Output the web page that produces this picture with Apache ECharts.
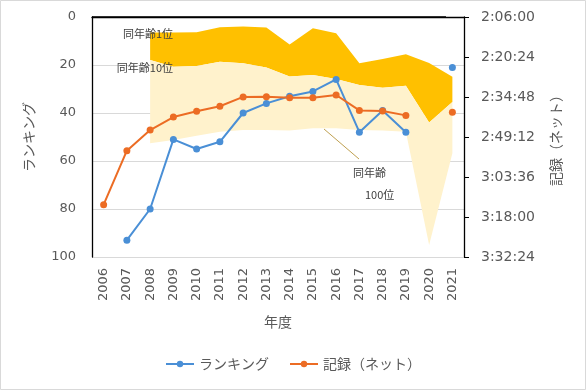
<!DOCTYPE html>
<html><head><meta charset="utf-8">
<script src="https://cdn.jsdelivr.net/npm/echarts@6/dist/echarts.min.js"></script>
<style>html,body{margin:0;padding:0;background:#fff}#c{width:586px;height:390px}</style>
</head><body><div id="c"></div>
<script>
const years = ['2006','2007','2008','2009','2010','2011','2012','2013','2014','2015','2016','2017','2018','2019','2020','2021'];
const ranking = [null,93,80,51,55,52,40,36,33,31,26,48,39,48,null,21];
const recordNet = ['3:13:34','2:54:07','2:46:42','2:42:02','2:39:57','2:38:08','2:34:46','2:34:41','2:35:02','2:35:02','2:34:05','2:39:37','2:39:52','2:41:25',null,'2:40:18'];
const sameAge1st = [null,null,'2:11:37','2:11:37','2:11:27','2:09:43','2:09:27','2:09:48','2:15:56','2:10:04','2:11:53','2:22:41','2:21:07','2:19:24','2:22:35','2:27:31'];
const sameAge10th = [null,null,'2:21:28','2:23:53','2:23:38','2:22:04','2:22:41','2:24:09','2:27:26','2:26:55','2:28:17','2:30:27','2:31:29','2:30:43','2:44:01','2:36:35'];
const sameAge100th = [null,null,'2:51:27','2:50:19','2:48:46','2:47:18','2:46:42','2:46:42','2:46:52','2:46:05','2:46:05','2:46:42','2:46:52','2:47:18','3:28:05','2:55:05'];
const rankTicks = [0,20,40,60,80,100];
const recordTicks = ['2:06:00','2:20:24','2:34:48','2:49:12','3:03:36','3:18:00','3:32:24'];

function toSec(s){ if(s==null) return null; const p=s.split(':').map(Number); return p[0]*3600+p[1]*60+p[2]; }
function fmt(sec){ const h=Math.floor(sec/3600), m=Math.floor(sec%3600/60), s=Math.round(sec%60); return h+':'+String(m).padStart(2,'0')+':'+String(s).padStart(2,'0'); }
const base = toSec(recordTicks[0]);
const rMax = toSec(recordTicks[recordTicks.length-1]) - base;
const rInt = toSec(recordTicks[1]) - base;
const off = a => a.map(v => v==null ? null : toSec(v) - base);
const rec = off(recordNet), s1 = off(sameAge1st), s10 = off(sameAge10th), s100 = off(sameAge100th);
const dark = s1.map((v,i)=> v==null?null: s10[i]-v);
const light = s10.map((v,i)=> v==null?null: s100[i]-v);

const txt = '#595959';
const font = 'DejaVu Sans, "Noto Sans CJK JP", sans-serif';
const cjk = '"Noto Sans CJK JP", sans-serif';
const chart = echarts.init(document.getElementById('c'));
chart.setOption({
  animation:false,
  backgroundColor:'#fff',
  textStyle:{fontFamily:font},
  grid:{left:92,right:122,top:17,bottom:133},
  legend:{
    data:['ランキング','記録（ネット）'], bottom:14, left:'center', itemWidth:28, itemHeight:8, itemGap:20,
    textStyle:{color:txt,fontSize:14,fontFamily:cjk}
  },
  xAxis:{
    type:'category', data:years, boundaryGap:true,
    name:'年度', nameLocation:'middle', nameGap:58, nameTextStyle:{color:txt,fontSize:14,fontFamily:cjk},
    axisLine:{lineStyle:{color:'#000',width:1.3}}, axisTick:{show:false},
    axisLabel:{rotate:90, color:txt, fontSize:13, margin:11, interval:0}
  },
  yAxis:[{
    type:'value', inverse:true, min:rankTicks[0], max:rankTicks[rankTicks.length-1], interval:rankTicks[1]-rankTicks[0],
    name:'ランキング', nameLocation:'middle', nameGap:56, nameRotate:90, nameTextStyle:{color:txt,fontSize:14,fontFamily:cjk},
    axisLine:{show:true,lineStyle:{color:'#000',width:1.3}}, axisTick:{show:false},
    axisLabel:{color:txt,fontSize:13,margin:16},
    splitLine:{lineStyle:{color:'#d9d9d9',width:1}}
  },{
    type:'value', inverse:true, min:0, max:rMax, interval:rInt, position:'right',
    name:'記録（ネット）', nameLocation:'middle', nameGap:85, nameRotate:90, nameTextStyle:{color:txt,fontSize:14,fontFamily:cjk},
    axisLine:{show:true,lineStyle:{color:'#000',width:1.3}},
    axisTick:{show:true,length:5,lineStyle:{color:'#000'}},
    axisLabel:{color:txt,fontSize:14,margin:17,formatter:v=>fmt(v+base)},
    splitLine:{show:false}
  }],
  series:[
    {name:'band1', type:'line', yAxisIndex:1, stack:'band', data:s1, symbol:'none', lineStyle:{width:0,opacity:0}, silent:true},
    {name:'band10', type:'line', yAxisIndex:1, stack:'band', data:dark, symbol:'none', lineStyle:{width:0,opacity:0}, areaStyle:{color:'#FFC000',opacity:1}, silent:true},
    {name:'band100', type:'line', yAxisIndex:1, stack:'band', data:light, symbol:'none', lineStyle:{width:0,opacity:0}, areaStyle:{color:'#FFF2CC',opacity:1}, silent:true},
    {name:'ランキング', type:'line', yAxisIndex:0, data:ranking, symbol:'circle', symbolSize:7, showAllSymbol:true,
     itemStyle:{color:'#4A8FD6'}, lineStyle:{color:'#4A8FD6',width:2}, z:5},
    {name:'記録（ネット）', type:'line', yAxisIndex:1, data:rec, symbol:'circle', symbolSize:7, showAllSymbol:true,
     itemStyle:{color:'#EC6C24'}, lineStyle:{color:'#EC6C24',width:2}, z:5}
  ],
  graphic:[
    {type:'rect', shape:{x:0.5,y:0.5,width:585,height:389}, style:{fill:null,stroke:'#d9d9d9',lineWidth:1}, z:-1, silent:true},
    {type:'line', shape:{x1:92,y1:17,x2:446,y2:17}, style:{stroke:'#000',lineWidth:1.5}, z:100},
    {type:'text', x:173, y:34, style:{text:'同年齢1位', align:'right', verticalAlign:'middle', fill:'#404040', font:'11px '+cjk}, z:100},
    {type:'text', x:173, y:68, style:{text:'同年齢10位', align:'right', verticalAlign:'middle', fill:'#404040', font:'11px '+cjk}, z:100},
    {type:'line', shape:{x1:324,y1:129,x2:359,y2:159}, style:{stroke:'#BFA050',lineWidth:1}, z:100},
    {type:'text', x:353, y:173, style:{text:'同年齢', align:'left', verticalAlign:'middle', fill:'#404040', font:'11px '+cjk}, z:100},
    {type:'text', x:365, y:195, style:{text:'100位', align:'left', verticalAlign:'middle', fill:'#404040', font:'11px '+cjk}, z:100}
  ]
});
</script></body></html>
